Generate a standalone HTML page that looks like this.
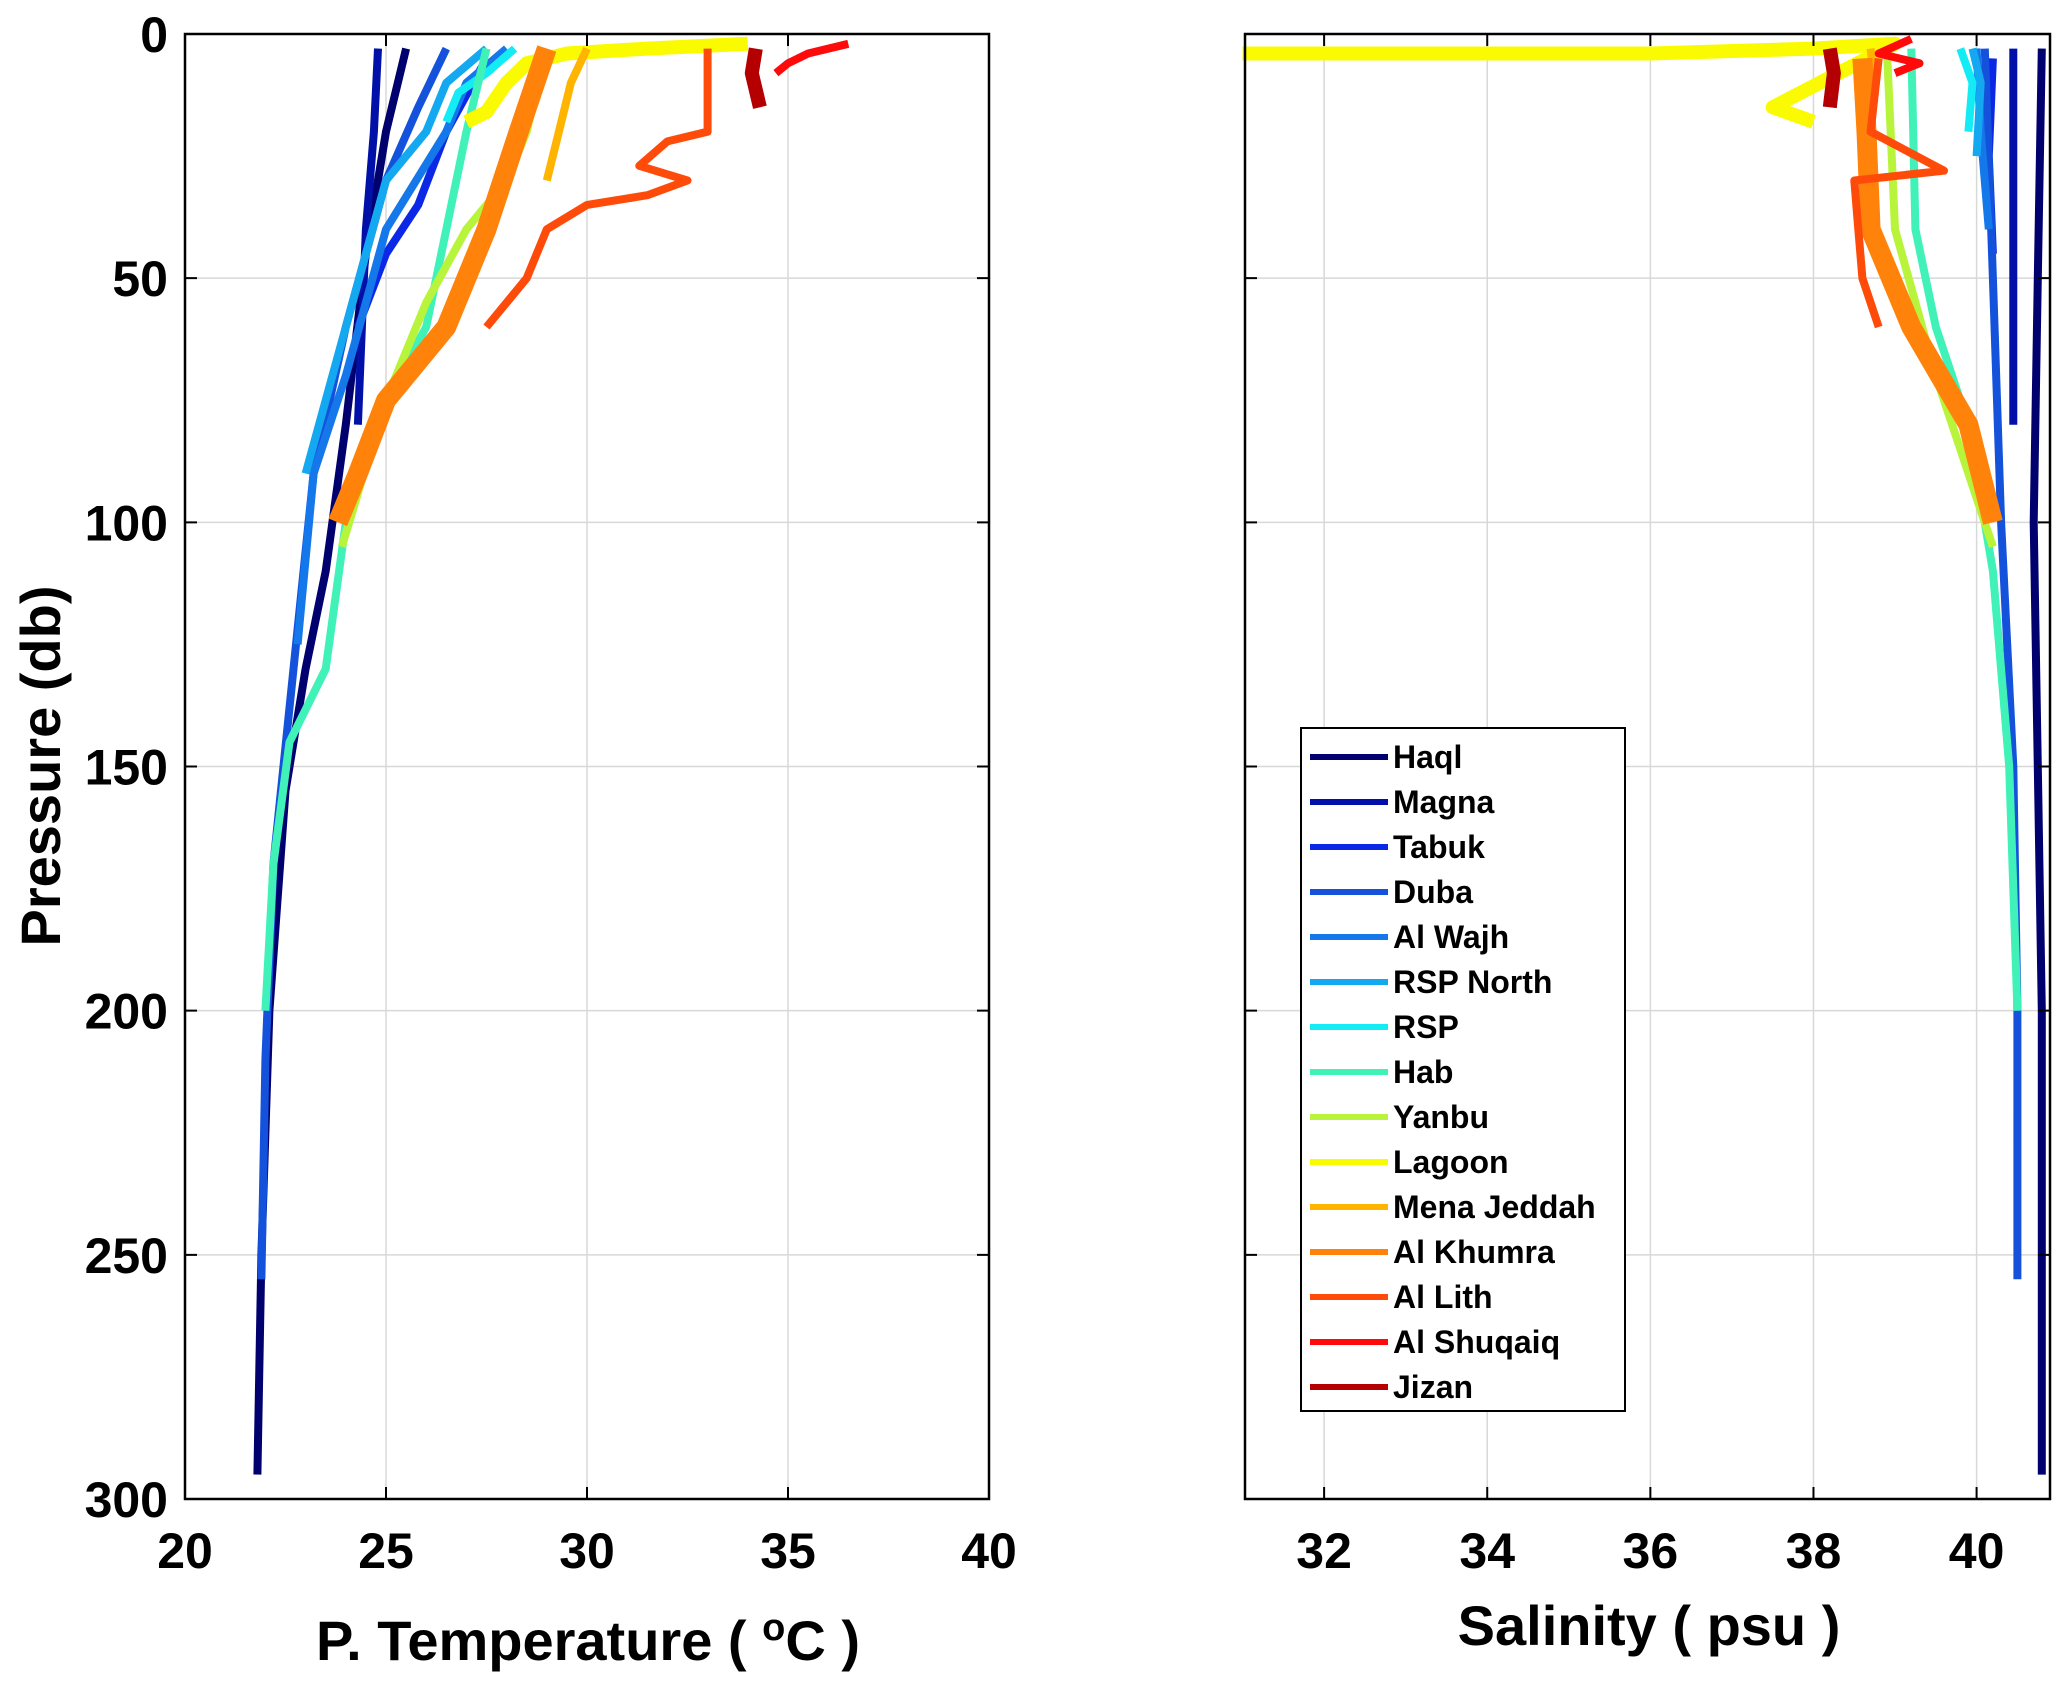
<!DOCTYPE html>
<html><head><meta charset="utf-8"><style>
html,body{margin:0;padding:0;background:#fff}
svg{display:block}
text{font-family:"Liberation Sans Narrow","Liberation Sans",sans-serif;font-weight:bold;fill:#000}
</style></head><body>
<svg id="chart" width="2067" height="1689" viewBox="0 0 2067 1689" xmlns="http://www.w3.org/2000/svg">
<g id="grid"></g><g id="series"></g><g id="axes"></g><g id="legend"></g>
</svg>
<script>
const stations=["Haql","Magna","Tabuk","Duba","Al Wajh","RSP North","RSP","Hab","Yanbu","Lagoon","Mena Jeddah","Al Khumra","Al Lith","Al Shuqaiq","Jizan"];
const colors=["#00006e","#0010a8","#0a28e6","#1452dc","#1478eb","#14a8f0","#14ecf5","#40f2b8","#b8f43c","#fafa00","#ffb400","#ff820a","#ff4b0a","#ff0a0a","#b40000"];
const widths=[8,8,8,8,8,8,8,8,8,14,8,20,8,8,14];
const tempDepth=[
[3,20,45,80,110,130,155,200,250,295],
[3,20,40,60,80],
[5,20,35,45,60],
[3,15,30,60,90,130,170,210,255],
[3,10,20,40,70,90,125],
[3,10,20,30,60,90],
[3,8,12,18],
[3,20,40,60,75,100,130,145,170,200],
[3,20,30,40,55,75,105],
[2,3,4,6,10,16,18],
[3,10,20,30],
[3,20,40,60,75,90,100],
[3,20,22,27,30,33,35,40,50,60],
[2,4,6,8],
[3,8,15]];
const tempVals=[
[25.5,25.0,24.5,24.0,23.5,23.0,22.5,22.1,21.9,21.8],
[24.8,24.7,24.5,24.4,24.3],
[27.5,26.5,25.8,25.0,24.3],
[26.5,25.8,25.0,24.0,23.2,22.7,22.2,22.0,21.9],
[28.0,27.0,26.5,25.0,24.0,23.2,22.8],
[27.5,26.5,26.0,25.0,24.0,23.0],
[28.2,27.5,26.8,26.5],
[27.5,27.0,26.5,26.0,25.0,24.0,23.5,22.6,22.2,22.0],
[29.0,28.5,28.0,27.0,26.0,25.0,23.9],
[34.0,31.5,29.5,28.5,28.0,27.5,27.0],
[30.0,29.6,29.3,29.0],
[29.0,28.3,27.5,26.5,25.0,24.3,23.8],
[33.0,33.0,32.0,31.3,32.5,31.5,30.0,29.0,28.5,27.5],
[36.5,35.5,35.0,34.7],
[34.2,34.1,34.3]];
const salDepth=[
[3,50,100,150,200,295],
[3,40,80],
[5,25,45],
[3,50,100,150,200,255],
[3,20,40],
[3,10,25],
[3,10,20],
[3,40,60,80,110,150,200],
[3,40,70,105],
[4,4,3,2,15,18],
[3,10,20],
[5,20,40,60,80,100],
[5,20,28,30,40,50,60],
[1,4,6,8],
[3,8,15]];
const salVals=[
[40.8,40.75,40.7,40.75,40.8,40.8],
[40.45,40.45,40.45],
[40.2,40.15,40.2],
[40.1,40.2,40.3,40.45,40.5,40.5],
[40.0,40.05,40.15],
[39.95,40.05,40.0],
[39.8,39.95,39.9],
[39.2,39.25,39.5,39.9,40.2,40.4,40.5],
[38.9,39.0,39.5,40.2],
[31.0,36.0,38.0,39.0,37.5,38.0],
[38.7,38.75,38.7],
[38.6,38.65,38.7,39.2,39.9,40.2],
[38.8,38.7,39.6,38.5,38.55,38.6,38.8],
[39.2,38.8,39.3,39.0],
[38.2,38.25,38.2]];
const tTicks=[20,25,30,35,40];
const sTicks=[32,34,36,38,40];
const pTicks=[0,50,100,150,200,250,300];

const NS="http://www.w3.org/2000/svg";
const yTop=34,yBot=1499;
const L={x0:185,x1:989,min:20,max:40};
const R={x0:1245,x1:2050,min:31.03,max:40.9};
function py(p){return yTop+(p/300)*(yBot-yTop);}
function ax(a,v){return a.x0+(v-a.min)/(a.max-a.min)*(a.x1-a.x0);}
function mk(tag,attrs,parent){const e=document.createElementNS(NS,tag);for(const k in attrs)e.setAttribute(k,attrs[k]);parent.appendChild(e);return e;}
const G=document.getElementById('grid'),S=document.getElementById('series'),A=document.getElementById('axes'),LG=document.getElementById('legend');

function drawAxes(a,ticks,name,label,lx,ly){
  ticks.forEach(t=>{const x=ax(a,t);
    if(x>a.x0+1&&x<a.x1-1){const g=mk('line',{x1:x,x2:x,y1:yTop,y2:yBot,stroke:'#d8d8d8','stroke-width':1.5},G);
      }
    const tk=mk('path',{d:`M${x},${yBot}v-12M${x},${yTop}v12`,stroke:'#000','stroke-width':2},A);
    
    const tx=mk('text',{x:x,y:1568,'font-size':50,'text-anchor':'middle'},A);tx.textContent=t;
    
  });
  pTicks.forEach(p=>{const y=py(p);
    if(p>0&&p<300){const g=mk('line',{x1:a.x0,x2:a.x1,y1:y,y2:y,stroke:'#d8d8d8','stroke-width':1.5},G);
      }
    const tk=mk('path',{d:`M${a.x0},${y}h12M${a.x1},${y}h-12`,stroke:'#000','stroke-width':2},A);
    
  });
  const b=mk('rect',{x:a.x0,y:yTop,width:a.x1-a.x0,height:yBot-yTop,fill:'none',stroke:'#000','stroke-width':2.5},A);
  
  const lb=mk('text',{x:lx,y:ly,'font-size':56,'text-anchor':'middle'},A);lb.innerHTML=label;
  
}
drawAxes(L,tTicks,'temperature','P. Temperature ( <tspan dy="-20" font-size="38">o</tspan><tspan dy="20">C )</tspan>',588,1660);
drawAxes(R,sTicks,'salinity','Salinity ( psu )',1649,1645);
pTicks.forEach(p=>{const t=mk('text',{x:168,y:py(p)+18,'font-size':50,'text-anchor':'end'},A);t.textContent=p;
  });
const yl=mk('text',{x:0,y:0,'font-size':56,'text-anchor':'middle',transform:'translate(60,766) rotate(-90)'},A);
yl.textContent='Pressure (db)';


function drawSeries(a,depths,vals,name){
  stations.forEach((s,i)=>{
    const d=depths[i].map((p,j)=>(j?'L':'M')+ax(a,vals[i][j]).toFixed(1)+','+py(p).toFixed(1)).join('');
    const pth=mk('path',{d:d,fill:'none',stroke:colors[i],'stroke-width':widths[i],'stroke-linejoin':'round'},S);
    
    
  });
}
drawSeries(L,tempDepth,tempVals,'temperature');
drawSeries(R,salDepth,salVals,'salinity');

const lb=mk('rect',{x:1301,y:728,width:324,height:683,fill:'#fff',stroke:'#000','stroke-width':2},LG);

stations.forEach((s,i)=>{const y=757+i*45;
  const g=mk('g',{},LG);
  
  mk('line',{x1:1310,x2:1388,y1:y,y2:y,stroke:colors[i],'stroke-width':6},g);
  const t=mk('text',{x:1393,y:y+11,'font-size':32},g);t.textContent=s;
});
</script>
</body></html>
